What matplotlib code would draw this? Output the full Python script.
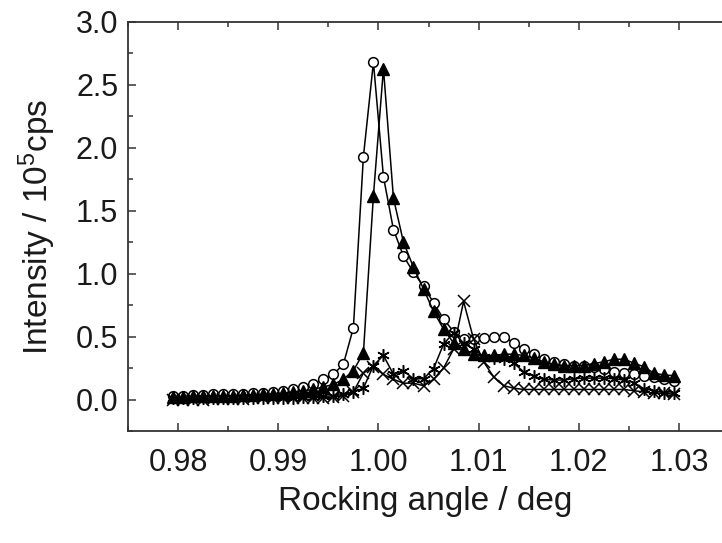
import numpy as np
import matplotlib
matplotlib.use('Agg')
import matplotlib.pyplot as plt
from matplotlib.ticker import MultipleLocator, FormatStrFormatter

plt.rcParams['font.family'] = ['Liberation Sans', 'DejaVu Sans']
plt.rcParams['mathtext.default'] = 'regular'

# rocking angle grid (deg), one point every 0.001 deg
angle = np.round(np.arange(51) * 0.001 + 0.9795, 4)

# intensities in 10^5 cps
circles = [0.03, 0.03, 0.035, 0.035, 0.04, 0.04, 0.045, 0.045, 0.05, 0.055,
           0.06, 0.07, 0.085, 0.10, 0.12, 0.16, 0.20, 0.28, 0.57, 1.93,
           2.68, 1.77, 1.35, 1.14, 1.01, 0.90, 0.77, 0.64, 0.54, 0.48,
           0.48, 0.49, 0.50, 0.50, 0.45, 0.40, 0.36, 0.32, 0.30, 0.28,
           0.27, 0.27, 0.26, 0.24, 0.22, 0.21, 0.20, 0.19, 0.18, 0.16, 0.145]
triangles = [0.02, 0.02, 0.025, 0.025, 0.03, 0.03, 0.03, 0.035, 0.035, 0.04,
             0.045, 0.05, 0.06, 0.07, 0.08, 0.10, 0.12, 0.16, 0.23, 0.37,
             1.62, 2.63, 1.60, 1.25, 1.05, 0.88, 0.70, 0.56, 0.45, 0.40,
             0.36, 0.35, 0.35, 0.36, 0.36, 0.35, 0.33, 0.30, 0.28, 0.27,
             0.27, 0.27, 0.285, 0.30, 0.32, 0.32, 0.29, 0.26, 0.21, 0.195, 0.19]
stars = [0.01, 0.01, 0.01, 0.01, 0.01, 0.01, 0.01, 0.01, 0.01, 0.01,
         0.01, 0.015, 0.015, 0.02, 0.02, 0.025, 0.03, 0.04, 0.06, 0.09,
         0.27, 0.35, 0.20, 0.23, 0.165, 0.165, 0.245, 0.44, 0.53, 0.45,
         0.40, 0.34, 0.33, 0.32, 0.29, 0.22, 0.185, 0.16, 0.155, 0.155,
         0.165, 0.17, 0.17, 0.17, 0.165, 0.155, 0.135, 0.085, 0.07, 0.055, 0.05]
crosses = [0.0, 0.0, 0.0, 0.0, 0.005, 0.005, 0.005, 0.005, 0.01, 0.01,
           0.01, 0.01, 0.01, 0.015, 0.015, 0.015, 0.02, 0.03, 0.06, 0.21,
           0.26, 0.20, 0.16, 0.13, 0.13, 0.11, 0.16, 0.25, 0.40, 0.78,
           0.48, 0.30, 0.18, 0.11, 0.09, 0.08, 0.08, 0.08, 0.08, 0.08,
           0.08, 0.08, 0.08, 0.08, 0.08, 0.08, 0.07, 0.06, 0.05, 0.05, 0.04]

fig = plt.figure(figsize=(7.22, 5.43), dpi=100)
ax = fig.add_axes([0.1773, 0.2063, 0.8227, 0.7532])

lw = 1.1
ax.plot(angle, circles, color='black', lw=lw, marker='o', ms=7,
        mfc='white', mec='black', mew=1.1, zorder=3)
ax.plot(angle, triangles, color='black', lw=lw, marker='^', ms=8,
        mfc='black', mec='black', zorder=4)
ax.plot(angle, stars, color='black', lw=lw, marker=(6, 2, 0), ms=9,
        mec='black', mew=1.1, zorder=5)
ax.plot(angle, crosses, color='black', lw=lw, marker='x', ms=8,
        mec='black', mew=1.1, zorder=5)

ax.set_xlim(0.975, 1.0343)
ax.set_ylim(-0.25, 3.0)
ax.xaxis.set_major_locator(MultipleLocator(0.01))
ax.xaxis.set_minor_locator(MultipleLocator(0.005))
ax.xaxis.set_major_formatter(FormatStrFormatter('%.2f'))
ax.yaxis.set_major_locator(MultipleLocator(0.5))
ax.yaxis.set_minor_locator(MultipleLocator(0.25))
ax.yaxis.set_major_formatter(FormatStrFormatter('%.1f'))

ax.tick_params(which='both', direction='in', top=True, right=False,
               labelsize=22, color='#333333', width=1.1, labelcolor='#1a1a1a')
ax.tick_params(which='major', length=6)
ax.tick_params(which='minor', length=3.5)
ax.tick_params(axis='x', which='major', pad=12)
ax.tick_params(axis='y', which='major', pad=7)
ax.spines['right'].set_visible(False)
for s in ['left', 'bottom', 'top']:
    ax.spines[s].set_linewidth(1.3)
    ax.spines[s].set_color('#333333')

ax.set_xlabel('Rocking angle / deg', fontsize=24, labelpad=6, color='#1a1a1a')
ax.set_ylabel('Intensity / 10$^5$cps', fontsize=24, labelpad=13, color='#1a1a1a')

fig.savefig('out.png', dpi=100)
